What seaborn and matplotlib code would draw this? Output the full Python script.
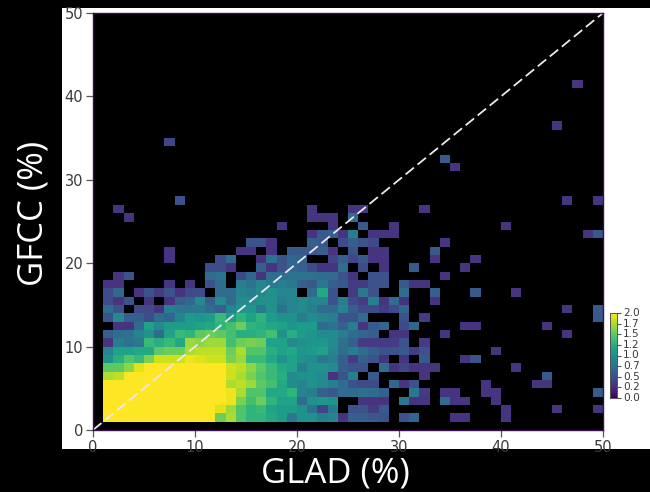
import numpy as np
import pandas as pd
import matplotlib
matplotlib.use("Agg")
import matplotlib.pyplot as plt
from matplotlib.patches import Rectangle
import seaborn as sns

# log10-scale cell values; each row holds GLAD bins 1..33 for one GFCC bin
r01 = [2]*11 + [1.55,1.75,1.45,1.3,1.3,1.2,1.1,.8,1.0,1.0,.85,.9,.3,.6,.6,.55,.5,0,.5,.65,0,0]
r02 = [2]*11 + [1.9,1.7,1.45,1.3,1.35,1.15,1.1,1.1,1.0,.75,.4,.8,0,.5,.5,.35,.55,0,0,0,0]
r03 = [2]*12 + [1.95,1.6,1.4,1.55,1.3,1.15,1.15,.7,1.0,1.05,1.0,0,0,.3,.3,.3,0,.8,.3,.3,0]
r04 = [2]*12 + [1.95,1.75,1.45,1.45,1.2,1.2,1.3,.9,.85,.6,.55,.7,.7,.75,.7,.6,0,0,.8,.35,0]
r05 = [2]*12 + [1.75,1.8,1.7,1.5,1.4,1.2,.95,.9,1.0,.95,.85,.7,.5,.45,.45,0,.65,.3,.5,0,0]
r06 = [1.75,1.8] + [2]*10 + [1.85,1.75,1.6,1.45,1.35,1.25,.95,1.0,1.0,.95,.3,.5,.85,0,.55,0,0,0,0,.3,0]
r07 = [1.5,1.5,1.65,1.9] + [2]*8 + [1.85,1.8,1.65,1.5,1.35,1.2,1.15,.85,1.0,1.0,.95,.6,.5,.5,0,.7,.3,.4,.3,.3,.3]
r08 = [1.0,1.25,1.45,1.35,1.6,1.85,1.85,1.85,1.95,1.9,1.85,1.85,1.6,1.7,1.35,1.35,1.2,1.0,1.15,1.0,.95,.8,.85,.6,.35,.6,.5,.3,0,.3,0,.55,0]
r09 = [.9,1.15,1.15,1.2,1.2,1.5,1.55,1.55,1.75,1.8,1.8,1.8,1.55,1.75,1.45,1.45,1.25,1.15,1.2,1.05,1.1,1.15,.9,.7,.85,.7,.6,.5,.5,.55,.35,.5,0]
r10 = [.3,.85,.75,.8,1.35,1.25,1.35,1.2,1.7,1.65,1.7,1.7,1.4,1.55,1.6,1.55,1.15,1.15,.95,1.0,1.05,1.05,.95,.75,.6,.35,.35,.35,.35,.5,0,.35,0]
r11 = [.6,.7,.75,.9,1.0,.7,1.15,1.35,1.3,1.5,1.55,1.5,1.4,1.25,1.25,1.3,1.4,1.0,1.25,1.1,1.05,.95,.95,.85,.7,.65,.6,0,.3,.3,0,0,0]
r12 = [0,.3,.3,.7,1.15,.95,1.1,1.1,1.1,1.15,1.2,1.3,1.4,1.55,1.3,1.25,1.2,1.15,1.05,1.1,1.1,.7,.75,.6,.85,.3,.55,.65,0,.45,.65,0,0]
r13 = [.5,.95,.6,.6,.45,.7,.65,.9,1.1,1.05,1.1,1.35,1.1,1.3,1.15,1.3,1.1,1.0,1.0,.85,.95,.9,.85,.5,.5,.7,0,0,0,.5,0,.35,0]
r14 = [.7,.5,0,.45,.45,.3,.85,.8,.8,.8,.7,.6,.9,1.05,1.05,.8,1.0,.75,.9,.95,.85,.7,.7,.9,.6,.45,.45,.35,.45,.65,0,0,0]
r15 = [.45,.3,.5,0,.3,0,.3,.6,.65,.95,.6,.95,.7,.95,.95,1.0,1.0,.85,.9,.95,.9,.9,.5,.85,.45,.35,.85,.3,.7,.3,0,0,.3]
r16 = [.45,.65,0,.3,.5,.35,.5,.3,.45,.45,0,.7,.7,.9,.85,.95,1.0,.9,.9,0,.7,1.2,.5,0,.35,.8,.5,0,0,.7,0,0,.6]
r17 = [.3,.3,0,0,0,0,.3,0,.3,0,.5,.7,0,.85,.75,.9,.8,.85,.8,.6,.55,.8,.6,.55,.35,.35,.5,.5,0,.55,.3,.3,0]
r18 = [0,.3,.5,0,0,0,0,0,0,0,.7,.75,0,.45,.65,.3,.7,.7,.75,.75,.75,.7,.7,.5,.3,0,.5,.5,0,0,0,0,0]
r19 = [0,0,0,0,0,0,0,0,0,0,.45,.45,.3,0,0,.6,.3,.5,.65,.6,.45,.3,.3,.7,0,.45,0,.3,0,0,.55,0,0]
r20 = [0,0,0,0,0,0,.3,0,0,0,0,.45,.7,0,0,.3,.75,.5,.65,.6,0,0,.4,.6,.4,.55,.3,.3,0,0,0,0,.3]
r21 = [0,0,0,0,0,0,.3,0,0,0,0,0,0,.3,.3,0,.3,0,.55,.55,.55,.6,.3,0,.5,0,.3,.3,0,0,0,0,.55]
r22 = [0]*14 + [.5,.5,.3,0,0,0,.6,.55,0,.45,.6,.5,.45,0,0,0,0,0,0]
r23 = [0]*20 + [.3,.55,.6,.3,.85,0,.3,.3,.3,0,0,0,0]
r24 = [0]*17 + [.3,0,0,0,0,.3,0,0,.55,0,0,.3,0,0,0,0]
r25 = [0,0,.3] + [0]*17 + [.3,.3,.3,0,.7] + [0]*8
r26 = [0,.3] + [0]*18 + [.3,0,0,0,.3,.3,0,0,0,0,0,.3,0]
dense_rows = [r01,r02,r03,r04,r05,r06,r07,r08,r09,r10,r11,r12,r13,r14,r15,r16,r17,r18,r19,r20,r21,r22,r23,r24,r25,r26]

# sparse cells beyond the dense block
sparse_x = [35,36,40, 40,45,49, 34,35,36,39, 34,35,38,39,49, 38,43,44, 44, 41, 36,37, 39, 34,46, 36,37,44, 49, 46,49, 37,41, 34, 36, 37, 34, 48,49, 40, 8,46,49, 35, 34, 7, 45, 47]
sparse_y = [1,1,1, 2,2,2, 3,3,3,3, 4,4,4,4,4, 5,5,5, 6, 7, 8,8, 9, 11,11, 12,12,12, 13, 14,14, 16,16, 18, 19, 20, 22, 23,23, 24, 27,27,27, 31, 32, 34, 36, 41]
sparse_v = [.3,.3,.3, .3,.3,.3, .7,.3,.3,.3, .3,.3,.3,.3,.55, .3,.3,.3, .55, .3, .3,.5, .3, .3,.3, .3,.3,.3, .55, .3,.55, .55,.3, .3, .3, .3, .3, .3,.55, .3, .5,.3,.3, .3, .55, .4, .3, .3]

bin_labels = list(range(50))
axis_ticks = [0, 10, 20, 30, 40, 50]
cbar_ticks = [0, .25, .5, .75, 1, 1.25, 1.5, 1.75, 2]
cbar_labels = ["0.0", "0.2", "0.5", "0.7", "1.0", "1.2", "1.5", "1.7", "2.0"]

grid = np.zeros((50, 50))
for j, row in enumerate(dense_rows, start=1):
    grid[j, 1:1 + len(row)] = row
for i, j, v in zip(sparse_x, sparse_y, sparse_v):
    grid[j, i] = v
df = pd.DataFrame(grid, index=bin_labels, columns=bin_labels)

W, H = 650, 492
fig = plt.figure(figsize=(W / 100, H / 100), dpi=100, facecolor="black")
fig.add_artist(Rectangle((62 / W, 1 - 449 / H), (W - 62) / W, (449 - 8) / H,
                         transform=fig.transFigure, facecolor="white", edgecolor="none", zorder=-1))
ax = fig.add_axes([93 / W, 1 - 430 / H, 510 / W, 417 / H])
cax = fig.add_axes([610 / W, 1 - 398 / H, 7 / W, 85 / H])

sns.heatmap(df, mask=df == 0, cmap="viridis", vmin=0, vmax=2, ax=ax, cbar_ax=cax,
            xticklabels=False, yticklabels=False, square=False)
ax.set_facecolor("black")
ax.set_xlim(0, 50)
ax.set_ylim(0, 50)
ax.plot([0, 50], [0, 50], color="#f0e6f5", lw=1.3, linestyle=(0, (6, 2.6)))

tick_col = "#3a3a3a"
ax.set_xticks(axis_ticks, [str(t) for t in axis_ticks])
ax.set_yticks(axis_ticks, [str(t) for t in axis_ticks])
ax.tick_params(axis="both", length=5, width=0.9, color="#555555", labelcolor=tick_col, labelsize=10.5, pad=2,
               labelrotation=0)
for s in ax.spines.values():
    s.set_visible(True)
    s.set_color("#3b0f50")
    s.set_linewidth(1.0)

cax.set_yticks(cbar_ticks, cbar_labels)
cax.tick_params(length=3, width=0.8, color="#555555", labelcolor=tick_col, labelsize=7.6, pad=1.5)
cax.yaxis.set_tick_params(which="both", right=True)
for s in cax.spines.values():
    s.set_visible(True)
    s.set_color("#555555")
    s.set_linewidth(0.6)
for lab in cax.get_yticklabels():
    lab.set_verticalalignment("center")

fig.text(335 / W, 1 - 473 / H, "GLAD (%)", color="white", fontsize=25, family="Open Sans", ha="center", va="center")
fig.text(33 / W, 1 - 213 / H, "GFCC (%)", color="white", fontsize=25, family="Open Sans", rotation=90, ha="center", va="center")

fig.savefig("out.png", dpi=100, facecolor="black")
